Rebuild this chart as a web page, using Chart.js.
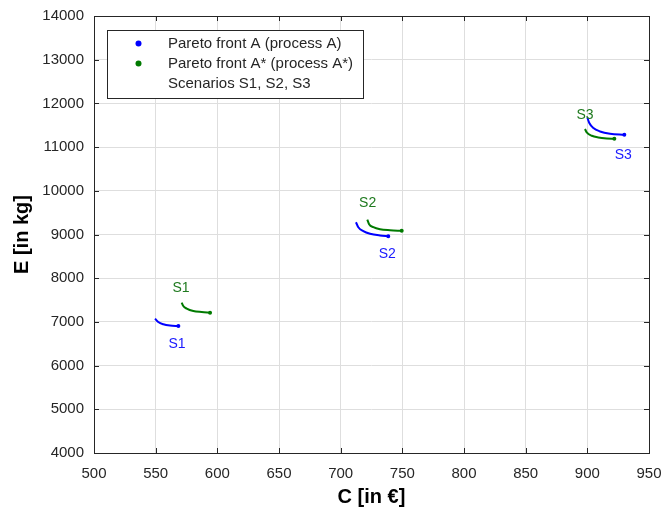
<!DOCTYPE html>
<html>
<head>
<meta charset="utf-8">
<script src="https://cdn.jsdelivr.net/npm/chart.js@4"></script>
<style>
  html, body { margin: 0; padding: 0; background: #ffffff; }
  #wrap { width: 666px; height: 512px; }
</style>
</head>
<body>
<div id="wrap"><canvas id="c" width="666" height="512"></canvas></div>
<script>
// ---- data ----
const xTickValues = [500, 550, 600, 650, 700, 750, 800, 850, 900, 950];
const yTickValues = [4000, 5000, 6000, 7000, 8000, 9000, 10000, 11000, 12000, 13000, 14000];

// Pareto front A (process A)
const frontA_S1_C = [549.5, 552.1, 556.2, 561.6, 568.4];
const frontA_S1_E = [7075, 6998, 6945, 6916, 6906];
const frontA_S2_C = [712.4, 714.3, 718.4, 723.8, 731.9, 738.6];
const frontA_S2_E = [9281, 9167, 9075, 9016, 8977, 8961];
const frontA_S3_C = [900.0, 901.6, 904.9, 910.3, 918.4, 930.0];
const frontA_S3_E = [11678, 11550, 11436, 11358, 11306, 11283];

// Pareto front A* (process A*)
const frontB_S1_C = [571.1, 572.4, 575.2, 580.5, 587.3, 594.1];
const frontB_S1_E = [7441, 7363, 7304, 7249, 7226, 7212];
const frontB_S2_C = [721.6, 723.2, 726.5, 731.9, 740.0, 749.5];
const frontB_S2_E = [9342, 9228, 9167, 9121, 9098, 9084];
const frontB_S3_C = [898.1, 899.5, 903.6, 908.9, 915.7, 921.9];
const frontB_S3_E = [11413, 11336, 11260, 11221, 11199, 11192];

// Scenario labels (text, anchor C, anchor E, series)
const scenarioNames = ['S1', 'S1', 'S2', 'S2', 'S3', 'S3'];
const scenarioC     = [570.5, 567.3, 721.9, 737.8, 898.1, 929.2];
const scenarioE     = [7767, 6489, 9708, 8543, 11724, 10826];
const scenarioSeries = ['B', 'A', 'B', 'A', 'B', 'A'];

const legendLabels = ['Pareto front A (process A)', 'Pareto front A* (process A*)', 'Scenarios S1, S2, S3'];
const xTitle = 'C [in €]';
const yTitle = 'E [in kg]';

// ---- styling ----
const BLUE = '#0000ff';
const GREEN = '#007a00';
const TEXT = '#262626';
const FONT = '"Liberation Sans", Arial, Helvetica, sans-serif';

function pts(cs, es) { return cs.map((c, i) => ({ x: c, y: es[i] })); }
function series(label, cs, es, color) {
  return {
    label: label,
    data: pts(cs, es),
    showLine: true,
    borderColor: color,
    backgroundColor: color,
    borderWidth: 2,
    pointRadius: cs.map((_, i) => i === cs.length - 1 ? 1 : 0),
    pointHoverRadius: 0,
    cubicInterpolationMode: 'monotone',
    fill: false
  };
}

const datasets = [
  series('A S1', frontA_S1_C, frontA_S1_E, BLUE),
  series('A S2', frontA_S2_C, frontA_S2_E, BLUE),
  series('A S3', frontA_S3_C, frontA_S3_E, BLUE),
  series('A* S1', frontB_S1_C, frontB_S1_E, GREEN),
  series('A* S2', frontB_S2_C, frontB_S2_E, GREEN),
  series('A* S3', frontB_S3_C, frontB_S3_E, GREEN)
];

const decor = {
  id: 'decor',
  afterDraw(chart) {
    const ctx = chart.ctx;
    const a = chart.chartArea;
    const xs = chart.scales.x, ys = chart.scales.y;
    ctx.save();
    // box
    ctx.strokeStyle = TEXT;
    ctx.lineWidth = 1;
    ctx.strokeRect(Math.round(a.left) + 0.5, Math.round(a.top) + 0.5,
                   Math.round(a.right - a.left), Math.round(a.bottom - a.top));
    // inward tick marks on all sides
    ctx.beginPath();
    xTickValues.forEach(v => {
      const px = Math.round(xs.getPixelForValue(v)) + 0.5;
      ctx.moveTo(px, a.bottom); ctx.lineTo(px, a.bottom - 5);
      ctx.moveTo(px, a.top); ctx.lineTo(px, a.top + 5);
    });
    yTickValues.forEach(v => {
      const py = Math.round(ys.getPixelForValue(v)) + 0.5;
      ctx.moveTo(a.left, py); ctx.lineTo(a.left + 5, py);
      ctx.moveTo(a.right, py); ctx.lineTo(a.right - 5, py);
    });
    ctx.stroke();

    // scenario labels
    ctx.font = '14px ' + FONT;
    ctx.textAlign = 'center';
    ctx.textBaseline = 'middle';
    scenarioNames.forEach((n, i) => {
      ctx.fillStyle = scenarioSeries[i] === 'A' ? '#1a1aff' : '#1f7a1f';
      ctx.fillText(n, xs.getPixelForValue(scenarioC[i]), ys.getPixelForValue(scenarioE[i]));
    });

    // legend box
    const lx = 107.5, ly = 30.5, lw = 256, lh = 68;
    ctx.fillStyle = '#ffffff';
    ctx.fillRect(lx, ly, lw, lh);
    ctx.strokeStyle = TEXT;
    ctx.strokeRect(lx, ly, lw, lh);
    const rows = [43.5, 63.5, 84];
    const dotColors = [BLUE, GREEN, null];
    ctx.textAlign = 'left';
    ctx.font = '15px ' + FONT;
    legendLabels.forEach((t, i) => {
      if (dotColors[i]) {
        ctx.fillStyle = dotColors[i];
        ctx.beginPath();
        ctx.arc(138.5, rows[i], 3, 0, Math.PI * 2);
        ctx.fill();
      }
      ctx.fillStyle = TEXT;
      ctx.fillText(t, 168, rows[i]);
    });

    // axis titles
    ctx.fillStyle = '#000000';
    ctx.font = 'bold 20px ' + FONT;
    ctx.textAlign = 'center';
    ctx.textBaseline = 'middle';
    ctx.fillText(xTitle, (a.left + a.right) / 2, 497);
    ctx.translate(22, (a.top + a.bottom) / 2);
    ctx.rotate(-Math.PI / 2);
    ctx.fillText(yTitle, 0, 0);
    ctx.restore();
  }
};

new Chart(document.getElementById('c'), {
  type: 'scatter',
  data: { datasets: datasets },
  options: {
    responsive: false,
    animation: false,
    layout: { padding: { top: 16, right: 17, left: 0, bottom: 0 } },
    plugins: { legend: { display: false }, tooltip: { enabled: false } },
    scales: {
      x: {
        type: 'linear', min: 500, max: 950,
        afterBuildTicks: s => { s.ticks = xTickValues.map(v => ({ value: v })); },
        afterFit: s => { s.height = 59; s.paddingLeft = 0; s.paddingRight = 0; },
        grid: { color: '#dedede', drawTicks: false, lineWidth: 1 },
        border: { display: false },
        ticks: { color: TEXT, font: { size: 15, family: FONT }, padding: 12, maxRotation: 0,
                 callback: v => String(v) }
      },
      y: {
        type: 'linear', min: 4000, max: 14000,
        afterBuildTicks: s => { s.ticks = yTickValues.map(v => ({ value: v })); },
        afterFit: s => { s.width = 94; s.paddingTop = 0; s.paddingBottom = 0; },
        grid: { color: '#dedede', drawTicks: false, lineWidth: 1 },
        border: { display: false },
        ticks: { color: TEXT, font: { size: 15, family: FONT }, padding: 10,
                 callback: v => String(v) }
      }
    }
  },
  plugins: [decor]
});
</script>
</body>
</html>
